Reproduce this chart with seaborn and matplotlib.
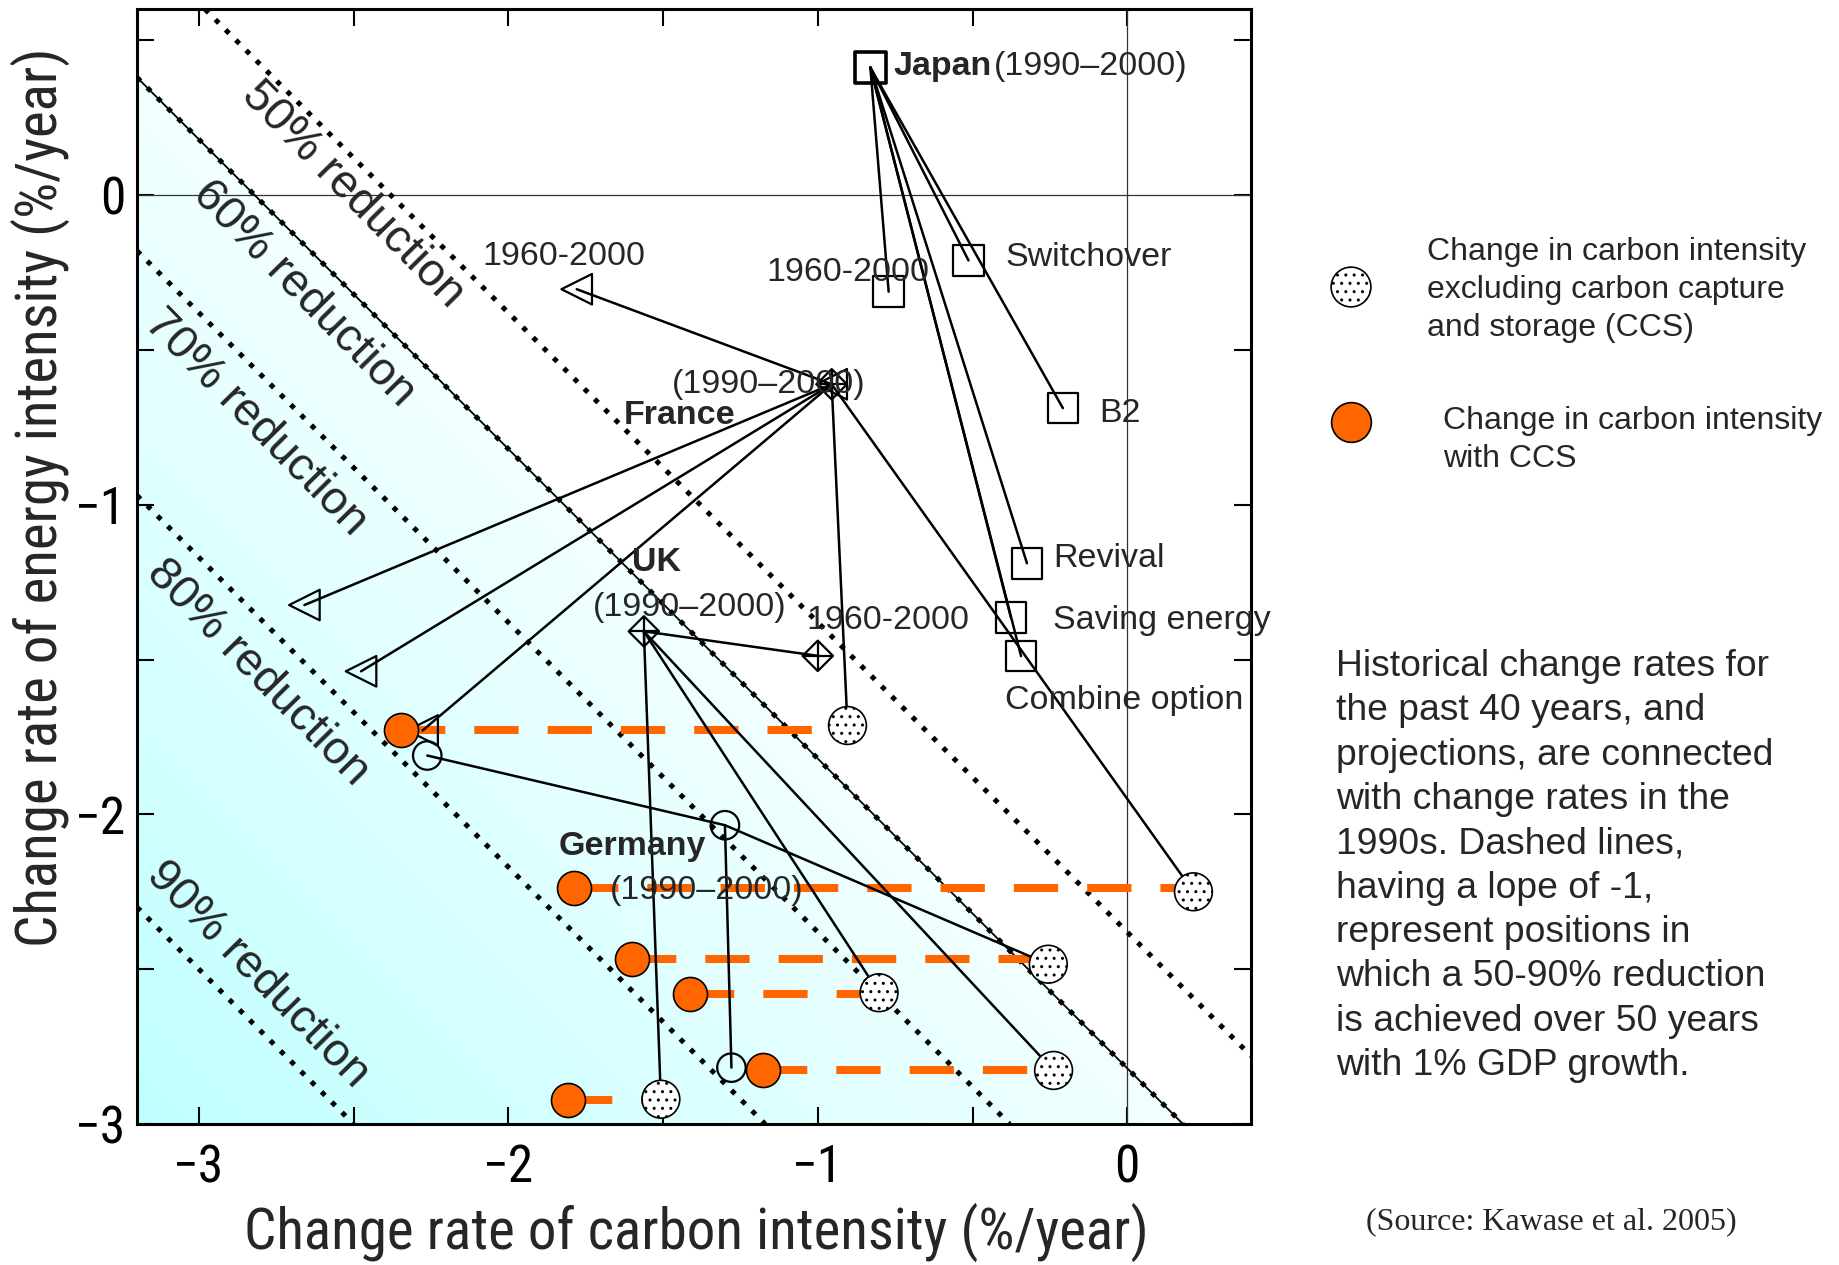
import matplotlib
matplotlib.use("Agg")
import matplotlib.pyplot as plt
import numpy as np
import pandas as pd
import seaborn as sns
from matplotlib import font_manager
from matplotlib.ticker import MultipleLocator, FuncFormatter

# ---- values (x: carbon intensity, y: energy intensity, %/yr) ----
# Japan 1990-2000 and the points linked to it
jp_x0, jp_y0 = -0.83, 0.412
jp_x = [-0.771, -0.513, -0.208, -0.324, -0.376, -0.343]
jp_y = [-0.312, -0.211, -0.688, -1.189, -1.364, -1.489]
jp_names = ["1960-2000", "Switchover", "B2", "Revival", "Saving energy", "Combine option"]

# France 1990-2000, 1960-2000 (first triangle) and projections
fr_x0, fr_y0 = -0.955, -0.611
fr_tri_x = [-1.779, -2.659, -2.476, -2.277]
fr_tri_y = [-0.304, -1.324, -1.538, -1.729]

# UK 1990-2000 and 1960-2000
uk_x0, uk_y0 = -1.562, -1.409
uk_hist_x, uk_hist_y = -1.0, -1.488

# Germany 1990-2000 and the open circles linked to it
de_x0, de_y0 = -1.30, -2.035
de_open_x = [-2.262, -1.279]
de_open_y = [-1.81, -2.818]

# change in carbon intensity with CCS / without CCS, paired
ccs_x = [-2.346, -1.788, -1.600, -1.414, -1.176, -1.807]
ccs_y = [-1.729, -2.238, -2.468, -2.580, -2.824, -2.924]
noccs_x = [-0.904, 0.214, -0.255, -0.802, -0.238, -1.507]
noccs_y = [-1.713, -2.250, -2.484, -2.576, -2.827, -2.920]
noccs_from = ["France", "France", "Germany", "UK", "UK", "UK"]

# reduction lines (slope -1), value of x + y on each line
reduction_pct = [50, 60, 70, 80, 90]
reduction_c = [-2.38, -2.82, -3.38, -4.17, -5.50]

ORANGE = "#ff6600"
W, H = 1839, 1265

sns.set_style("ticks")
plt.rcParams['font.family'] = ['Liberation Sans', 'DejaVu Sans']
plt.rcParams['hatch.linewidth'] = 1.0
plt.rcParams['hatch.color'] = '#444444'

# axis texts in the reference are condensed; use a narrow face if one exists
installed = {f.name for f in font_manager.fontManager.ttflist}
narrow = None
for cand in ['Liberation Sans Narrow', 'Roboto Condensed', 'DejaVu Sans Condensed']:
    if cand in installed:
        narrow = cand
        break
if narrow is not None:
    AX_FONT, AX_SIZE, TICK_SIZE = narrow, 41, 37
else:
    AX_FONT, AX_SIZE, TICK_SIZE = 'Liberation Sans', 36.5, 34

fig = plt.figure(figsize=(W / 100, H / 100), dpi=100)
ax = fig.add_axes([137 / W, 1 - 1124 / H, (1251 - 137) / W, (1124 - 9.3) / H])

# cyan gradient below the 60% line
xs = np.linspace(-3.2, 0.4, 900)
ys = np.linspace(-3.0, 0.6, 900)
X, Y = np.meshgrid(xs, ys)
S = X + Y
c60 = reduction_c[1]
t = np.clip((c60 - S) / (c60 + 6.3), 0, 1)
img = np.ones((len(ys), len(xs), 4))
img[..., 0] = (242 - 52 * t) / 255
img[..., 3] = np.where(S <= c60, 1.0, 0.0)
ax.imshow(img, extent=[-3.2, 0.4, -3.0, 0.6], origin='lower', aspect='auto',
          zorder=0, interpolation='bilinear')

ax.axhline(0, color='#333333', lw=0.9, zorder=1)
ax.axvline(0, color='#333333', lw=0.9, zorder=1)

for c in reduction_c:
    ax.axline((0, c), slope=-1, color='black', lw=3.6, ls=(0, (1, 1.9)), zorder=1)
ax.axline((0, c60), slope=-1, color='black', lw=1.3, zorder=1)

# connecting lines
segs = []
def link(tag, x0, y0, xs_, ys_):
    for i, (a, b) in enumerate(zip(xs_, ys_)):
        sid = f"{tag}{i}"
        segs.append((sid, x0, y0))
        segs.append((sid, a, b))

link("jp", jp_x0, jp_y0, jp_x, jp_y)
link("fr", fr_x0, fr_y0, fr_tri_x, fr_tri_y)
link("uk", uk_x0, uk_y0, [uk_hist_x], [uk_hist_y])
link("de", de_x0, de_y0, de_open_x, de_open_y)
for who, x0, y0 in [("France", fr_x0, fr_y0), ("UK", uk_x0, uk_y0), ("Germany", de_x0, de_y0)]:
    idx = [i for i, f in enumerate(noccs_from) if f == who]
    link("n" + who, x0, y0, [noccs_x[i] for i in idx], [noccs_y[i] for i in idx])
seg_df = pd.DataFrame(segs, columns=["seg", "x", "y"])
sns.lineplot(data=seg_df, x="x", y="y", units="seg", estimator=None, sort=False,
             color="black", lw=1.8, ax=ax, zorder=3, legend=False)

# orange dashed links with CCS -> without CCS
dash_df = pd.DataFrame({"seg": list(range(6)) * 2,
                        "x": ccs_x + noccs_x,
                        "y": ccs_y + ccs_y})
sns.lineplot(data=dash_df, x="x", y="y", units="seg", estimator=None, sort=False,
             color=ORANGE, lw=5.8, linestyle=(0, (5.5, 3.6)), ax=ax, zorder=2, legend=False)

# markers
sns.scatterplot(x=jp_x, y=jp_y, marker='s', s=484, facecolors='none', edgecolor='black',
                linewidth=1.6, ax=ax, zorder=5)
sns.scatterplot(x=[jp_x0], y=[jp_y0], marker='s', s=484, facecolors='none', edgecolor='black',
                linewidth=2.6, ax=ax, zorder=5)
sns.scatterplot(x=fr_tri_x + [fr_x0], y=fr_tri_y + [fr_y0], marker='<', s=484, facecolors='none',
                edgecolor='black', linewidth=1.6, ax=ax, zorder=5)
dia_x = [fr_x0, uk_x0, uk_hist_x]
dia_y = [fr_y0, uk_y0, uk_hist_y]
sns.scatterplot(x=dia_x, y=dia_y, marker='D', s=240, facecolors='none', edgecolor='black',
                linewidth=1.6, ax=ax, zorder=5)
sns.scatterplot(x=dia_x, y=dia_y, marker='+', s=484, color='black', linewidth=1.6, ax=ax, zorder=5)
sns.scatterplot(x=de_open_x + [de_x0], y=de_open_y + [de_y0], marker='o', s=420, facecolors='none',
                edgecolor='black', linewidth=1.6, ax=ax, zorder=5)
sns.scatterplot(x=ccs_x, y=ccs_y, marker='o', s=600, color=ORANGE, edgecolor='black',
                linewidth=1.2, ax=ax, zorder=6)
sns.scatterplot(x=noccs_x, y=noccs_y, marker='o', s=740, facecolors='white', edgecolor='black',
                linewidth=1.2, hatch='..', ax=ax, zorder=6)

# labels inside the plot
fs = 24.5
txt = dict(fontsize=fs, va='center', ha='left', zorder=7)
ax.text(-0.755, 0.416, "Japan", fontweight='bold', **txt)
ax.text(-0.432, 0.416, "(1990\u20132000)", **txt)
ax.text(-1.167, -0.251, "1960-2000", **txt)
ax.text(-0.394, -0.200, "Switchover", **txt)
ax.text(-0.090, -0.707, "B2", **txt)
ax.text(-0.240, -1.173, "Revival", **txt)
ax.text(-0.240, -1.374, "Saving energy", **txt)
ax.text(-0.394, -1.632, "Combine option", **txt)
ax.text(-2.085, -0.197, "1960-2000", **txt)
ax.text(-1.471, -0.611, "(1990\u20132000)", **txt)
ax.text(-1.627, -0.713, "France", fontweight='bold', **txt)
ax.text(-1.600, -1.186, "UK", fontweight='bold', **txt)
ax.text(-1.727, -1.331, "(1990\u20132000)", **txt)
ax.text(-1.036, -1.374, "1960-2000", **txt)
ax.text(-1.838, -2.105, "Germany", fontweight='bold', **txt)
ax.text(-1.671, -2.245, "(1990\u20132000)", **txt)

red_pos = [(-2.504, 0.002), (-2.662, -0.318), (-2.815, -0.736), (-2.811, -1.544), (-2.811, -2.519)]
for p, (tx, ty) in zip(reduction_pct, red_pos):
    ax.text(tx, ty, f"{p}% reduction", fontsize=33.5, rotation=-45.5, rotation_mode='anchor',
            ha='center', va='center', zorder=7)

# axes, ticks
ax.set_xlim(-3.2, 0.4)
ax.set_ylim(-3.0, 0.6)
ax.xaxis.set_major_locator(MultipleLocator(0.5))
ax.yaxis.set_major_locator(MultipleLocator(0.5))
fmt = FuncFormatter(lambda v, p: ('%d' % round(v)).replace('-', '\u2212') if abs(v - round(v)) < 1e-6 else '')
ax.xaxis.set_major_formatter(fmt)
ax.yaxis.set_major_formatter(fmt)
ax.tick_params(which='major', direction='in', length=12, width=1.5, top=True, right=True,
               labelsize=TICK_SIZE, labelfontfamily=AX_FONT, colors='black')
ax.tick_params(axis='x', pad=14)
ax.tick_params(axis='y', pad=8)
for sp in ax.spines.values():
    sp.set_visible(True)
    sp.set_linewidth(2.2)
    sp.set_color('black')
ax.set_xlabel("")
ax.set_ylabel("")

fig.text(696 / W, 1 - 1232 / H, "Change rate of carbon intensity (%/year)", fontsize=AX_SIZE,
         family=AX_FONT, ha='center', va='center')
fig.text(40 / W, 1 - 497 / H, "Change rate of energy intensity (%/year)", fontsize=AX_SIZE,
         family=AX_FONT, ha='center', va='center', rotation=90)

# legend on the right, drawn in figure pixels
lax = fig.add_axes([0, 0, 1, 1])
lax.set_xlim(0, W)
lax.set_ylim(H, 0)
lax.axis('off')
sns.scatterplot(x=[1351], y=[287], marker='o', s=820, facecolors='white', edgecolor='black',
                linewidth=1.2, hatch='..', ax=lax)
sns.scatterplot(x=[1351], y=[422], marker='o', s=820, color=ORANGE, edgecolor='black',
                linewidth=1.2, ax=lax)
fig.text(1427 / W, 1 - 290 / H, "Change in carbon intensity\nexcluding carbon capture\nand storage (CCS)",
         fontsize=23, ha='left', va='center', linespacing=1.34)
fig.text(1443 / W, 1 - 440 / H, "Change in carbon intensity\nwith CCS",
         fontsize=23, ha='left', va='center', linespacing=1.34)
fig.text(1336 / W, 1 - 866 / H,
         "Historical change rates for\nthe past 40 years, and\nprojections, are connected\n"
         "with change rates in the\n1990s. Dashed lines,\nhaving a lope of -1,\n"
         "represent positions in\nwhich a 50-90% reduction\nis achieved over 50 years\n"
         "with 1% GDP growth.", fontsize=26.8, ha='left', va='center', linespacing=1.345)
fig.text(1551 / W, 1 - 1222 / H, "(Source: Kawase et al. 2005)", fontsize=23,
         family=['Liberation Serif', 'DejaVu Serif'], ha='center', va='center')

fig.savefig("out.png", dpi=100)
